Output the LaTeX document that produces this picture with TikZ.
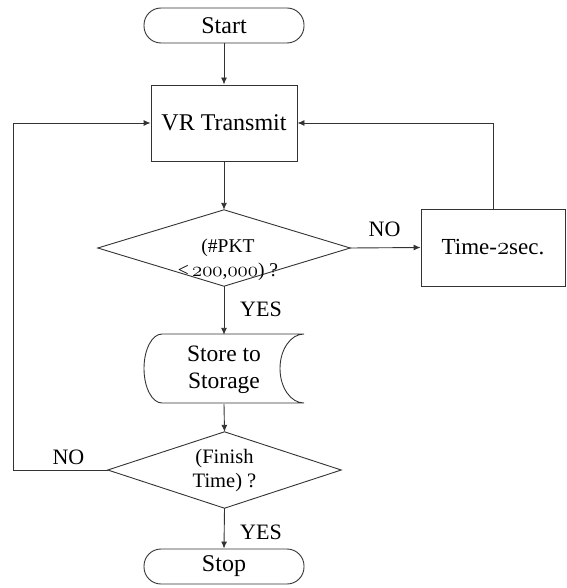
\documentclass[tikz,border=0pt]{standalone}
\usepackage{fontspec}
\setmainfont{Liberation Serif}
\usetikzlibrary{arrows.meta}
\newcommand\osnum[1]{{\usefont{OML}{cmm}{m}{it}#1}}
\tikzset{
  ln/.style={draw=black!80, line width=0.9pt},
  arr/.style={ln, -{Latex[length=7pt,width=6pt]}},
  term/.style={ln, rounded corners=17pt, minimum width=160pt, minimum height=35pt, inner sep=0pt, font=\fontsize{24}{26}\selectfont},
  proc/.style={ln, minimum width=146pt, minimum height=76pt, inner sep=0pt, font=\fontsize{24}{26}\selectfont},
  decbox/.style={draw=none, inner sep=0pt},
  dtext/.style={align=center, inner sep=0pt, font=\fontsize{20.5}{24}\selectfont},
  lab/.style={inner sep=0pt, font=\fontsize{22}{24}\selectfont},
}
\begin{document}
\begin{tikzpicture}[x=1pt,y=-1pt]
\useasboundingbox (0,0) rectangle (566,588);
\node[term] (start) at (224,25.5) {Start};
\node[proc] (vr) at (224,123) {VR Transmit};
% diamond 1
\node[decbox, minimum width=252pt, minimum height=76pt] (d1) at (224,248) {};
\draw[ln] (d1.north) -- (d1.east) -- (d1.south) -- (d1.west) -- cycle;
\node[dtext, font=\fontsize{19.5}{24}\selectfont] (d1t) at (228,260) {(\#PKT\\<\,\osnum{200},\osnum{000}) ?};
% time box
\node[ln, minimum width=144pt, minimum height=77pt, inner sep=0pt, font=\fontsize{23}{26}\selectfont] (time) at (493,247.5) {Time-\osnum{2}sec.};
% store
\node[decbox, minimum width=160pt, minimum height=69pt, align=center, font=\fontsize{23.5}{27}\selectfont] (store) at (224,369.5) {Store to\\Storage};
\draw[ln] (162,334) -- (304,334) arc[start angle=90, end angle=270, x radius=24pt, y radius=34.5pt] -- (162,403) arc[start angle=270, end angle=90, x radius=18pt, y radius=34.5pt];
% diamond 2
\node[decbox, minimum width=233pt, minimum height=76pt] (d2) at (224.5,470) {};
\draw[ln] (d2.north) -- (d2.east) -- (d2.south) -- (d2.west) -- cycle;
\node[dtext] (d2t) at (224.5,471) {(Finish\\Time) ?};
\node[term] (stop) at (224,566.5) {Stop};
% connectors
\draw[arr] (start) -- (vr);
\draw[arr] (vr) -- (d1.north);
\draw[arr] (d1.east) -- (time.west);
\draw[arr] (d1.south) -- (store.north);
\draw[arr] (store.south) -- (d2.north);
\draw[arr] (d2.south) -- (stop.north);
\coordinate (rt) at (493,123);
\draw[arr] (time.north) -- (rt) -- (vr.east);
\coordinate (lb) at (13,470);
\coordinate (lt) at (13,123);
\draw[arr] (d2.west) -- (lb) -- (lt) -- (vr.west);
% labels
\node[lab] (no1) at (384.5,229) {NO};
\node[lab] (yes1) at (261,309) {YES};
\node[lab] (no2) at (68.5,457) {NO};
\node[lab] (yes2) at (261,532) {YES};
\end{tikzpicture}
\end{document}
